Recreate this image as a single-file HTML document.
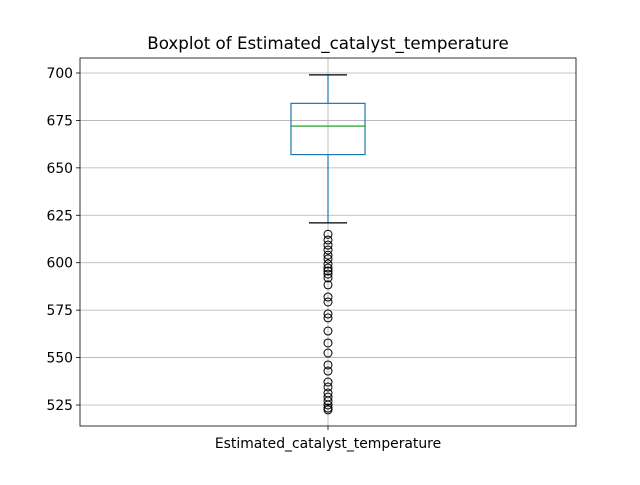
<!DOCTYPE html>
<html><head><meta charset="utf-8"><style>
body{margin:0;background:#fff;font-family:"Liberation Sans","DejaVu Sans",sans-serif}
svg text{font-family:"DejaVu Sans","Liberation Sans",sans-serif}
</style></head><body>
<svg id="chart" width="640" height="480" xmlns="http://www.w3.org/2000/svg"></svg>
<script>
const categories=["Estimated_catalyst_temperature"];
const yTicks=[525,550,575,600,625,650,675,700];
const q1=[657],median=[672],q3=[684],whiskerLow=[621],whiskerHigh=[699];
const outliers=[615,612,609.3,606.7,604,602,599.3,597.2,595.6,594,592,588.3,581.9,579.3,573,570.9,564,557.7,552.4,546.1,542.9,537.1,534.5,531.3,529.2,527.1,525,523.4,522.4];
const L=80,R=576,T=58,B=426;
const y=v=>405-(v-525)*(332/175);
const x=i=>L+(R-L)*(i+0.5)/categories.length;
const NS="http://www.w3.org/2000/svg";
const svg=document.getElementById('chart');
function mk(t,a,name,txt){const e=document.createElementNS(NS,t);for(const k in a)e.setAttribute(k,a[k]);


if(txt!==undefined)e.textContent=txt;svg.appendChild(e);return e;}
mk('text',{x:328,y:49,'text-anchor':'middle','font-size':16.7},'chart-title','Boxplot of Estimated_catalyst_temperature');
yTicks.forEach(v=>{const yy=y(v);
mk('line',{x1:L,x2:R,y1:yy,y2:yy,stroke:'#b0b0b0','stroke-width':0.8},'y-gridline');
mk('line',{x1:L-4,x2:L,y1:yy,y2:yy,stroke:'#000','stroke-width':0.8},'y-tick');
mk('text',{x:L-7,y:yy+5,'text-anchor':'end','font-size':13.9},'y-tick-label',v);});
categories.forEach((c,i)=>{const cx=x(i);
mk('line',{x1:cx,x2:cx,y1:T,y2:B,stroke:'#b0b0b0','stroke-width':0.8},'x-gridline');
mk('line',{x1:cx,x2:cx,y1:B,y2:B+4,stroke:'#000','stroke-width':0.8},'x-tick');
mk('text',{x:cx,y:B+22,'text-anchor':'middle','font-size':13.9},'x-tick-label',c);
const hw=37;
mk('line',{x1:cx,x2:cx,y1:y(q3[i]),y2:y(whiskerHigh[i]),stroke:'#1f77b4','stroke-width':1.2},'upper-whisker');
mk('line',{x1:cx,x2:cx,y1:y(q1[i]),y2:y(whiskerLow[i]),stroke:'#1f77b4','stroke-width':1.2},'lower-whisker');
mk('line',{x1:cx-19,x2:cx+19,y1:y(whiskerHigh[i]),y2:y(whiskerHigh[i]),stroke:'#000','stroke-width':1.2},'upper-cap');
mk('line',{x1:cx-19,x2:cx+19,y1:y(whiskerLow[i]),y2:y(whiskerLow[i]),stroke:'#000','stroke-width':1.2},'lower-cap');
mk('rect',{x:cx-hw,y:y(q3[i]),width:2*hw,height:y(q1[i])-y(q3[i]),fill:'none',stroke:'#1f77b4','stroke-width':1.2},'box');
mk('line',{x1:cx-hw,x2:cx+hw,y1:y(median[i]),y2:y(median[i]),stroke:'#2ca02c','stroke-width':1.2},'median-line');
outliers.forEach(v=>mk('circle',{cx:cx,cy:y(v),r:4,fill:'none',stroke:'#000','stroke-width':1},'outlier-point'));});
mk('rect',{x:L,y:T,width:R-L,height:B-T,fill:'none',stroke:'#000','stroke-width':0.8},'plot-frame');
</script>
</body></html>
